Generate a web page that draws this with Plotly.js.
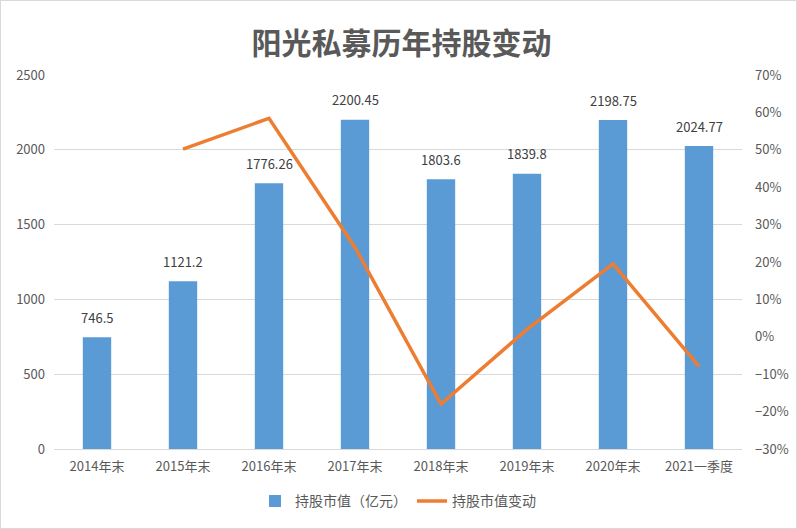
<!DOCTYPE html>
<html>
<head>
<meta charset="utf-8">
<script src="https://cdn.plot.ly/plotly-3.0.1.min.js"></script>
<style>
html,body{margin:0;padding:0;background:#fff;}
#wrap{position:relative;width:797px;height:529px;}
#chart{width:797px;height:529px;}
#frame{position:absolute;left:0;top:0;width:795px;height:527px;border:1px solid #d9d9d9;pointer-events:none;}
</style>
</head>
<body>
<div id="wrap"><div id="chart"></div><div id="frame"></div></div>
<script>
const categories = ["2014年末","2015年末","2016年末","2017年末","2018年末","2019年末","2020年末","2021一季度"];
const holdingValues = [746.5, 1121.2, 1776.26, 2200.45, 1803.6, 1839.8, 2198.75, 2024.77];
const holdingLabels = ["746.5","1121.2","1776.26","2200.45","1803.6","1839.8","2198.75","2024.77"];
const changeValues = [null, 0.502, 0.584, 0.239, -0.180, 0.020, 0.195, -0.079];
const seriesNames = ["持股市值（亿元）", "持股市值变动"];
const chartTitle = "阳光私募历年持股变动";

const fontFam = "Noto Sans CJK SC, Noto Sans, sans-serif";

const traces = [
  {
    type: "bar",
    name: seriesNames[0],
    x: categories,
    y: holdingValues,
    marker: {color: "#5B9BD5"},
    width: 0.33,
    hoverinfo: "x+y"
  },
  {
    type: "scatter",
    mode: "lines",
    name: seriesNames[1],
    x: categories,
    y: changeValues,
    yaxis: "y2",
    line: {color: "#ED7D31", width: 3.5},
    connectgaps: false
  }
];

const annotations = categories.map((c, i) => ({
  x: c, y: holdingValues[i], xref: "x", yref: "y",
  text: holdingLabels[i], showarrow: false, yshift: 20,
  font: {family: fontFam, size: 13, color: "#404040"}
}));

const layout = {
  width: 797, height: 529,
  margin: {l: 54, r: 55, t: 75, b: 78},
  paper_bgcolor: "#fff", plot_bgcolor: "#fff",
  title: {text: chartTitle, x: 0.505, xref: "paper", xanchor: "center", y: 0.918, yanchor: "middle",
          font: {family: fontFam, size: 30, color: "#595959", weight: "bold"}},
  font: {family: fontFam, size: 13, color: "#595959"},
  xaxis: {
    type: "category", showgrid: false, zeroline: false,
    showline: true, linecolor: "#d9d9d9", linewidth: 1,
    ticks: "", ticklabelstandoff: 5, tickfont: {family: fontFam, size: 13, color: "#595959"},
    fixedrange: true
  },
  yaxis: {
    range: [0, 2500], dtick: 500, showgrid: true, gridcolor: "#d9d9d9", gridwidth: 1,
    zeroline: false, showline: false, ticks: "", ticklabelstandoff: 8,
    tickfont: {family: fontFam, size: 13, color: "#595959"},
    fixedrange: true
  },
  yaxis2: {
    overlaying: "y", side: "right", range: [-0.3, 0.7], dtick: 0.1,
    tickformat: ".0%", showgrid: false, zeroline: false, showline: false,
    ticks: "", ticklabelstandoff: 12,
    tickfont: {family: fontFam, size: 13, color: "#595959"},
    fixedrange: true
  },
  legend: {
    orientation: "h", x: 0.5, xanchor: "center", y: -0.14, yanchor: "middle",
    font: {family: fontFam, size: 14, color: "#595959"},
    traceorder: "normal"
  },
  annotations: annotations,
  showlegend: true
};

Plotly.newPlot("chart", traces, layout, {displayModeBar: false, staticPlot: true});
</script>
</body>
</html>
